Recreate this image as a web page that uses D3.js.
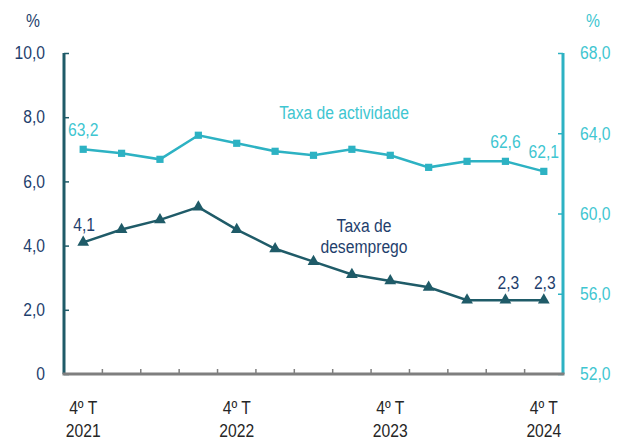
<!DOCTYPE html>
<html>
<head>
<meta charset="utf-8">
<script src="https://cdn.jsdelivr.net/npm/d3@7"></script>
<style>
  body { margin: 0; background: #fff; }
  text { font-family: "Liberation Sans", Arial, sans-serif; }
</style>
</head>
<body>
<div id="chart"></div>
<script>
// quarters, 4º T 2021 .. 4º T 2024
const quarters = ["4T21","1T22","2T22","3T22","4T22","1T23","2T23","3T23","4T23","1T24","2T24","3T24","4T24"];
const xLabels = [
    { q: "4T21", l1: "4º T", l2: "2021" },
    { q: "4T22", l1: "4º T", l2: "2022" },
    { q: "4T23", l1: "4º T", l2: "2023" },
    { q: "4T24", l1: "4º T", l2: "2024" }
];
const desemprego = [4.1, 4.5, 4.8, 5.2, 4.5, 3.9, 3.5, 3.1, 2.9, 2.7, 2.3, 2.3, 2.3];
const actividade = [63.2, 63.0, 62.7, 63.9, 63.5, 63.1, 62.9, 63.2, 62.9, 62.3, 62.6, 62.6, 62.1];
const leftTicks = [0, 2, 4, 6, 8, 10];
const rightTicks = [52, 56, 60, 64, 68];

const darkLine = "#1f5b68";
const lightLine = "#2db2c3";
const darkText = "#1f3f6d";
const lightText = "#3fc6d1";

const W = 628, H = 441;
const margin = { top: 53, right: 65, bottom: 67, left: 64 };
const width = W - margin.left - margin.right;
const height = H - margin.top - margin.bottom;

const svg = d3.select("#chart").append("svg")
    .attr("width", W)
    .attr("height", H);

const g = svg.append("g")
    .attr("transform", "translate(" + margin.left + "," + margin.top + ")");

const x = d3.scaleBand().domain(quarters).range([0, width]);
const yL = d3.scaleLinear().domain([0, 10]).range([height, 0]);
const yR = d3.scaleLinear().domain([52, 68]).range([height, 0]);
const cx = q => x(q) + x.bandwidth() / 2;

const fmt = v => v === 0 ? "0" : d3.format(".1f")(v).replace(".", ",");

// left axis
const leftAxis = g.append("g")
    .call(d3.axisLeft(yL).tickValues(leftTicks).tickSize(-5).tickPadding(19).tickFormat(fmt));
leftAxis.select(".domain").remove();
leftAxis.selectAll("line").attr("stroke", darkLine).attr("stroke-width", 1.5);
leftAxis.selectAll("text").attr("fill", darkText).style("font-size", "18px");
g.append("line").attr("x1", 0).attr("x2", 0).attr("y1", 0).attr("y2", height)
    .attr("stroke", darkLine).attr("stroke-width", 3);

// right axis
const rightAxis = g.append("g")
    .attr("transform", "translate(" + width + ",0)")
    .call(d3.axisRight(yR).tickValues(rightTicks).tickSize(-5).tickPadding(17).tickFormat(fmt));
rightAxis.select(".domain").remove();
rightAxis.selectAll("line").attr("stroke", lightLine).attr("stroke-width", 1.5);
rightAxis.selectAll("text").attr("fill", lightText).style("font-size", "18px");
g.append("line").attr("x1", width).attr("x2", width).attr("y1", 0).attr("y2", height)
    .attr("stroke", lightLine).attr("stroke-width", 3);

// x axis with ticks at category boundaries
const bounds = quarters.slice(1).map(q => x(q));
g.selectAll(".xtick").data(bounds).enter().append("line")
    .attr("class", "xtick")
    .attr("x1", d => d).attr("x2", d => d)
    .attr("y1", height).attr("y2", height - 5)
    .attr("stroke", "#7f7f7f").attr("stroke-width", 1.5);
g.append("line").attr("x1", -1.5).attr("x2", width + 1.5).attr("y1", height).attr("y2", height)
    .attr("stroke", "#7f7f7f").attr("stroke-width", 3);

const xl = g.selectAll(".xlab").data(xLabels).enter().append("text")
    .attr("class", "xlab")
    .attr("text-anchor", "middle")
    .attr("fill", "#262626")
    .style("font-size", "18px");
xl.append("tspan").attr("x", d => cx(d.q)).attr("y", height + 40).text(d => d.l1);
xl.append("tspan").attr("x", d => cx(d.q)).attr("y", height + 63).text(d => d.l2);

// unit labels
svg.append("text").attr("x", 33).attr("y", 27).attr("text-anchor", "middle")
    .attr("fill", darkText).style("font-size", "18px").text("%");
svg.append("text").attr("x", 593).attr("y", 27).attr("text-anchor", "middle")
    .attr("fill", lightText).style("font-size", "18px").text("%");

// activity rate line
g.append("path")
    .datum(actividade)
    .attr("fill", "none")
    .attr("stroke", lightLine)
    .attr("stroke-width", 2.5)
    .attr("d", d3.line().x((d, i) => cx(quarters[i])).y(d => yR(d)));
g.selectAll(".sq").data(actividade).enter().append("path")
    .attr("class", "sq")
    .attr("transform", (d, i) => "translate(" + cx(quarters[i]) + "," + yR(d) + ")")
    .attr("d", d3.symbol(d3.symbolSquare, 52))
    .attr("fill", lightLine);

// unemployment line
g.append("path")
    .datum(desemprego)
    .attr("fill", "none")
    .attr("stroke", darkLine)
    .attr("stroke-width", 2.5)
    .attr("d", d3.line().x((d, i) => cx(quarters[i])).y(d => yL(d)));
g.selectAll(".tri").data(desemprego).enter().append("path")
    .attr("class", "tri")
    .attr("transform", (d, i) => "translate(" + cx(quarters[i]) + "," + yL(d) + ")")
    .attr("d", d3.symbol(d3.symbolTriangle, 60))
    .attr("fill", darkLine);

// value labels
const actLabels = [0, 11, 12];
g.selectAll(".alab").data(actLabels).enter().append("text")
    .attr("class", "alab")
    .attr("x", i => cx(quarters[i]))
    .attr("y", i => yR(actividade[i]) - 13)
    .attr("text-anchor", "middle")
    .attr("fill", lightText)
    .style("font-size", "18px")
    .text(i => fmt(actividade[i]));

const desLabels = [0, 11, 12];
g.selectAll(".dlab").data(desLabels).enter().append("text")
    .attr("class", "dlab")
    .attr("x", i => cx(quarters[i]) + (i === 11 ? 3 : 1))
    .attr("y", i => yL(desemprego[i]) - 11)
    .attr("text-anchor", "middle")
    .attr("fill", darkText)
    .style("font-size", "18px")
    .text(i => fmt(desemprego[i]));

// series names
g.append("text").attr("x", 344 - margin.left).attr("y", 119 - margin.top)
    .attr("text-anchor", "middle").attr("fill", lightText).style("font-size", "18px")
    .text("Taxa de actividade");
const nm = g.append("text").attr("text-anchor", "middle").attr("fill", darkText).style("font-size", "18px");
nm.append("tspan").attr("x", 364 - margin.left).attr("y", 232 - margin.top).text("Taxa de");
nm.append("tspan").attr("x", 364 - margin.left).attr("y", 253 - margin.top).text("desemprego");

// the source font is a narrow sans: squeeze glyphs horizontally
svg.selectAll("text").each(function() {
    const el = d3.select(this);
    const parts = el.selectAll("tspan").empty() ? [this] : el.selectAll("tspan").nodes();
    parts.forEach(function(node) {
        const len = node.getComputedTextLength();
        d3.select(node).attr("textLength", len * 0.87).attr("lengthAdjust", "spacingAndGlyphs");
    });
});
</script>
</body>
</html>
